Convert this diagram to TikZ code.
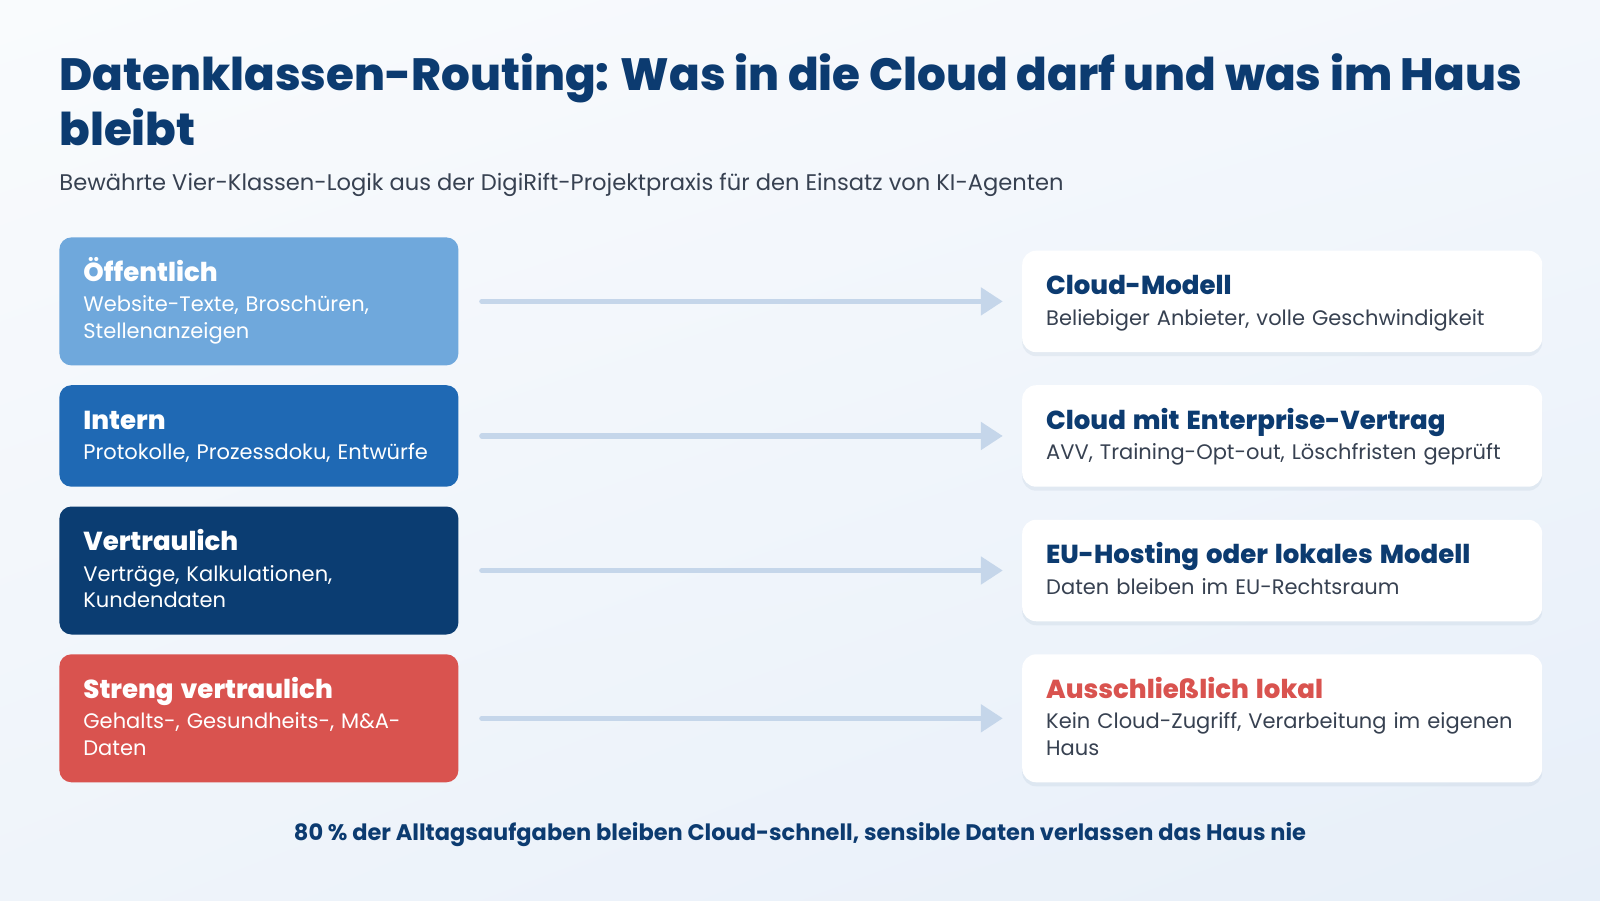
\documentclass[tikz,border=0pt]{standalone}
\usepackage{fontspec}
\setmainfont{Poppins}
\newfontfamily\heavyfont{Poppins ExtraBold}
\usetikzlibrary{arrows.meta, positioning, shadows, shadings}
\definecolor{routeNavy}{RGB}{12, 59, 112}
\definecolor{routeGray}{RGB}{55, 65, 81}
\definecolor{routePublic}{RGB}{111, 168, 220}
\definecolor{routeInternal}{RGB}{31, 105, 180}
\definecolor{routeConf}{RGB}{11, 61, 114}
\definecolor{routeStrict}{RGB}{217, 83, 79}
\definecolor{routeArrow}{RGB}{197, 214, 234}
\definecolor{routeBgA}{RGB}{249, 251, 253}
\definecolor{routeBgB}{RGB}{243, 247, 252}
\definecolor{routeBgC}{RGB}{239, 244, 250}
\definecolor{routeBgD}{RGB}{231, 239, 249}
\newcommand{\rowhead}[2][.]{{\heavyfont\fontsize{13}{15}\selectfont\color{#1}\rule{0pt}{22pt}#2}\\[2pt]}
\newcommand{\rowend}{\rule[-13.5pt]{0pt}{13.5pt}}

\begin{document}
\begin{tikzpicture}[
    x=0.5pt, y=-0.5pt,
    cls/.style={rectangle, rounded corners=6pt, text width=175.5pt, inner xsep=12pt, inner ysep=0pt, align=left, text=white, font=\fontsize{10.5}{13.25}\selectfont},
    target/.style={rectangle, rounded corners=7pt, fill=white, text width=236pt, inner xsep=12pt, inner ysep=0pt, align=left, text=routeGray, font=\fontsize{10.5}{13.25}\selectfont, drop shadow={shadow xshift=0pt, shadow yshift=-2pt, opacity=0.06, fill=routeNavy}},
    arrow/.style={-{Triangle[length=11pt, width=13.5pt]}, line width=2.6pt, line cap=round, routeArrow, shorten <=11.5pt, shorten >=9.5pt}
]
    % background
    \useasboundingbox (0,0) rectangle (1600,900);
    \shade[upper left=routeBgA, upper right=routeBgB, lower left=routeBgC, lower right=routeBgD] (0,0) rectangle (1600,900);

    % heading
    \node[anchor=north west, inner sep=0pt, align=left, text=routeNavy, font=\heavyfont\fontsize{22.6}{27.5}\selectfont] (title) at (59,53) {Datenklassen-Routing: Was in die Cloud darf und was im Haus\\bleibt};
    \node[anchor=base west, inner sep=0pt, text=routeGray, font=\fontsize{11.3}{13}\selectfont] (subtitle) at (59,190) {Bewährte Vier-Klassen-Logik aus der DigiRift-Projektpraxis für den Einsatz von KI-Agenten};

    % data classes
    \node[cls, fill=routePublic, anchor=north west] (pub) at (59,237) {\rowhead{Öffentlich}Website-Texte, Broschüren,\\Stellenanzeigen\rowend};
    \node[cls, fill=routeInternal, below=9.5pt of pub] (intern) {\rowhead{Intern}Protokolle, Prozessdoku, Entwürfe\rowend};
    \node[cls, fill=routeConf, below=9.5pt of intern] (conf) {\rowhead{Vertraulich}Verträge, Kalkulationen,\\Kundendaten\rowend};
    \node[cls, fill=routeStrict, below=9.5pt of conf] (strict) {\rowhead{Streng vertraulich}Gehalts-, Gesundheits-, M\&A-\\Daten\rowend};

    % targets
    \node[target, right=281.5pt of pub] (cloud) {\rowhead[routeNavy]{Cloud-Modell}Beliebiger Anbieter, volle Geschwindigkeit\rowend};
    \node[target, right=281.5pt of intern] (enterprise) {\rowhead[routeNavy]{Cloud mit Enterprise-Vertrag}AVV, Training-Opt-out, Löschfristen geprüft\rowend};
    \node[target, right=281.5pt of conf] (euhost) {\rowhead[routeNavy]{EU-Hosting oder lokales Modell}Daten bleiben im EU-Rechtsraum\rowend};
    \node[target, right=281.5pt of strict] (local) {\rowhead[routeStrict]{Ausschließlich lokal}Kein Cloud-Zugriff, Verarbeitung im eigenen\\Haus\rowend};

    \draw[arrow] (pub) -- (cloud);
    \draw[arrow] (intern) -- (enterprise);
    \draw[arrow] (conf) -- (euhost);
    \draw[arrow] (strict) -- (local);

    % footer
    \node[anchor=base, inner sep=0pt, text=routeNavy, font=\bfseries\fontsize{11.25}{13}\selectfont] (footer) at (800,840) {80~\% der Alltagsaufgaben bleiben Cloud-schnell, sensible Daten verlassen das Haus nie};
\end{tikzpicture}
\end{document}
